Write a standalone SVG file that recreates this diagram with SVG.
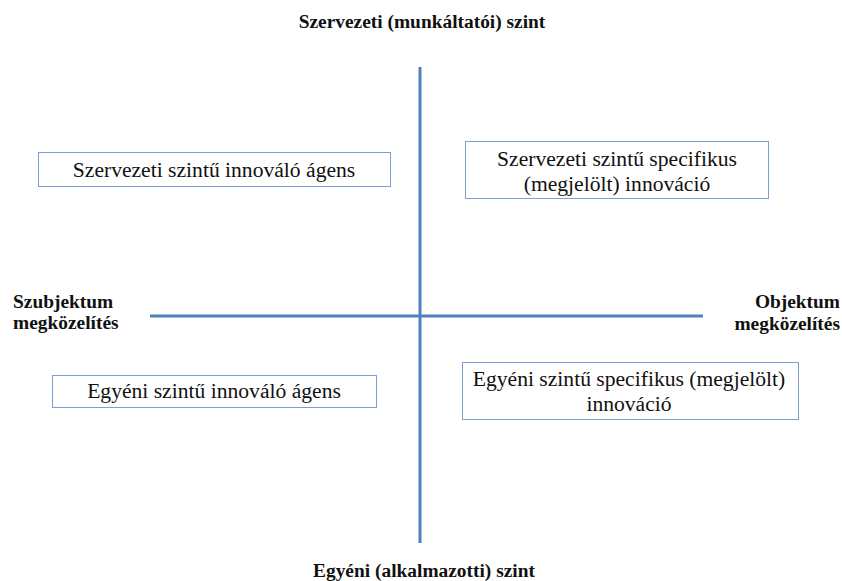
<svg xmlns="http://www.w3.org/2000/svg" width="842" height="581" viewBox="0 0 842 581">
  <style>
    .axis { stroke: #4f81bd; stroke-width: 3; fill: none; }
    .box { fill: #ffffff; stroke: #7d9ed3; stroke-width: 1; }
    .lbl { font-family: "Liberation Serif", "Times New Roman", serif; font-size: 21.6px; fill: #111111; text-anchor: middle; }
    .ax { font-family: "Liberation Serif", "Times New Roman", serif; font-size: 19.4px; font-weight: bold; fill: #111111; }
  </style>
  <rect width="842" height="581" fill="#ffffff"/>

  <g id="axes">
    <line class="axis" x1="420" y1="67" x2="420" y2="543"/>
    <line class="axis" x1="150" y1="316" x2="703" y2="316"/>
  </g>

  <g id="axis-labels">
    <text class="ax" x="422" y="28" text-anchor="middle">Szervezeti (munkáltatói) szint</text>
    <text class="ax" x="424" y="577" text-anchor="middle">Egyéni (alkalmazotti) szint</text>
    <text class="ax" x="13" y="308">Szubjektum</text>
    <text class="ax" x="13" y="329">megközelítés</text>
    <text class="ax" x="840" y="308" text-anchor="end">Objektum</text>
    <text class="ax" x="840" y="330" text-anchor="end">megközelítés</text>
  </g>

  <g id="org-agent">
    <rect class="box" x="38.5" y="152.5" width="352" height="34"/>
    <text class="lbl" x="214" y="177">Szervezeti szintű innováló ágens</text>
  </g>

  <g id="org-innovation">
    <rect class="box" x="465.5" y="141.5" width="303" height="57"/>
    <text class="lbl" x="617" y="166">Szervezeti szintű specifikus</text>
    <text class="lbl" x="617" y="191">(megjelölt) innováció</text>
  </g>

  <g id="ind-agent">
    <rect class="box" x="52.5" y="375.5" width="324" height="32"/>
    <text class="lbl" x="214" y="398">Egyéni szintű innováló ágens</text>
  </g>

  <g id="ind-innovation">
    <rect class="box" x="462.5" y="362.5" width="336" height="57"/>
    <text class="lbl" x="629" y="386">Egyéni szintű specifikus (megjelölt)</text>
    <text class="lbl" x="629" y="411">innováció</text>
  </g>
</svg>
